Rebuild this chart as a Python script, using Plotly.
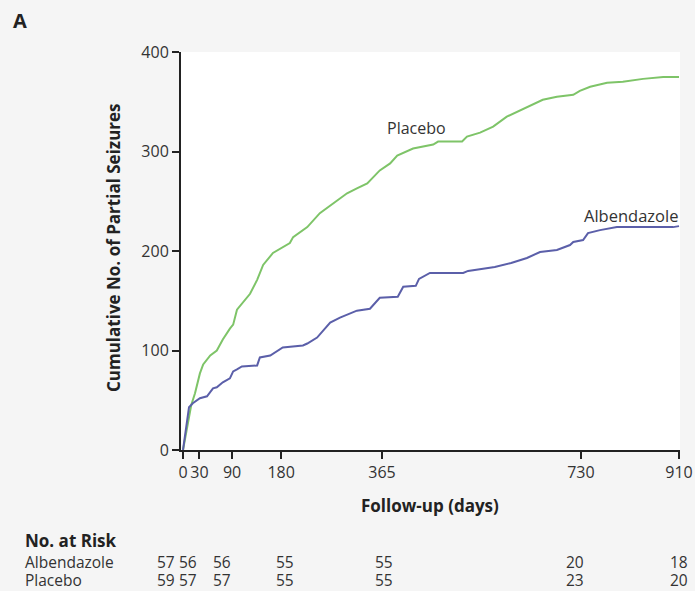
import plotly.graph_objects as go

# ---- data ----
albendazole_days = [0, 11, 18, 31, 44, 55, 62, 73, 86, 92, 99, 108, 136, 141, 160, 183, 220, 228, 246,
                    270, 288, 319, 343, 361, 394, 404, 427, 433, 453, 514, 523, 545, 572, 602, 631, 655,
                    686, 710, 716, 734, 743, 765, 796, 899, 910]
albendazole_cum = [0, 43, 47, 52, 54, 62, 63, 68, 72, 79, 81, 84, 85, 93, 95, 103, 105, 107, 113,
                   128, 133, 140, 142, 153, 154, 164, 165, 172, 178, 178, 180, 182, 184, 188, 193, 199,
                   201, 206, 209, 211, 218, 221, 224, 224, 225]

placebo_days = [0, 15, 22, 31, 37, 50, 62, 73, 86, 92, 99, 110, 123, 136, 147, 165, 183, 196, 202, 228,
                251, 275, 301, 319, 338, 361, 380, 393, 422, 459, 468, 512, 521, 545, 569, 594, 631,
                660, 686, 716, 728, 747, 778, 807, 844, 881, 910]
placebo_cum = [0, 45, 57, 77, 86, 95, 100, 111, 122, 126, 141, 148, 157, 171, 186, 198, 204, 208, 214, 224,
               238, 248, 258, 263, 268, 281, 288, 296, 303, 307, 310, 310, 315, 319, 325, 335, 345,
               352, 355, 357, 361, 365, 369, 370, 373, 375, 375]

x_ticks = [0, 30, 90, 180, 365, 730, 910]
y_ticks = [0, 100, 200, 300, 400]
risk_days = [0, 30, 90, 180, 365, 730, 910]
risk_albendazole = [57, 56, 56, 55, 55, 20, 18]
risk_placebo = [59, 57, 57, 55, 55, 23, 20]
risk_shift = [-17, -11, -10, 4, 2, -6, 0]   # label nudges (px) as in the reference table

FONT = "Open Sans"
TXT = "#333333"
DARK = "#222222"
GREEN = "#7ec468"
BLUE = "#5b5fa9"

fig = go.Figure()
fig.add_trace(go.Scatter(x=placebo_days, y=placebo_cum, mode="lines",
                         line=dict(color=GREEN, width=2), name="Placebo", hoverinfo="skip"))
fig.add_trace(go.Scatter(x=albendazole_days, y=albendazole_cum, mode="lines",
                         line=dict(color=BLUE, width=2), name="Albendazole", hoverinfo="skip"))

L, R, T, B = 181, 15, 52, 141
W, H = 695, 591
pw = W - L - R
ph = H - T - B

def py(pix):
    return (H - B - pix) / ph

def px(pix):
    return (pix - L) / pw

def note(text, x, y, size, color=TXT, xanchor="center", **kw):
    return dict(text=text, x=x, y=y, xref=kw.pop("xref", "paper"), yref="paper",
                showarrow=False, xanchor=xanchor, yanchor="middle",
                font=dict(family=FONT, size=size, color=color), **kw)

ROW_A, ROW_P = 562, 580
ann = [
    note("<b>A</b>", px(11), py(20), 20, DARK, xanchor="left"),
    note("<b>Cumulative No. of Partial Seizures</b>", px(113), py(248), 17, DARK, textangle=-90),
    note("<b>Follow-up (days)</b>", px(430), py(505), 17, DARK),
    note("Placebo", px(416), py(128), 16),
    note("Albendazole", px(631), py(215), 16.5),
    note("<b>No. at Risk</b>", px(23), py(540), 17, DARK, xanchor="left"),
    note("Albendazole", px(23), py(ROW_A), 15.5, xanchor="left"),
    note("Placebo", px(23), py(ROW_P), 15.5, xanchor="left"),
]
for d, a, p, s in zip(risk_days, risk_albendazole, risk_placebo, risk_shift):
    ann.append(note(str(a), d, py(ROW_A), 15.5, xref="x", xshift=s))
    ann.append(note(str(p), d, py(ROW_P), 15.5, xref="x", xshift=s))

fig.update_layout(
    width=W, height=H,
    margin=dict(l=L, r=R, t=T, b=B, pad=0, autoexpand=False),
    paper_bgcolor="#f5f5f5", plot_bgcolor="#ffffff",
    showlegend=False,
    annotations=ann,
    font=dict(family=FONT, color=TXT),
)
fig.update_xaxes(range=[-3.7, 911.8], tickvals=x_ticks, ticktext=[str(t) for t in x_ticks],
                 showgrid=False, zeroline=False, showline=True, linecolor=DARK, linewidth=2,
                 ticks="outside", ticklen=7, tickwidth=2, tickcolor=DARK, automargin=False,
                 tickfont=dict(family=FONT, size=16, color=TXT), fixedrange=True)
fig.update_yaxes(range=[0, 400], tickvals=y_ticks, showgrid=False, zeroline=False,
                 showline=True, linecolor=DARK, linewidth=2,
                 ticks="outside", ticklen=7, tickwidth=2, tickcolor=DARK, automargin=False,
                 tickfont=dict(family=FONT, size=16, color=TXT), fixedrange=True)

fig.write_html("out.html", config={"displayModeBar": False},
               post_script="document.body.style.margin='0';document.body.style.background='#f5f5f5';")
